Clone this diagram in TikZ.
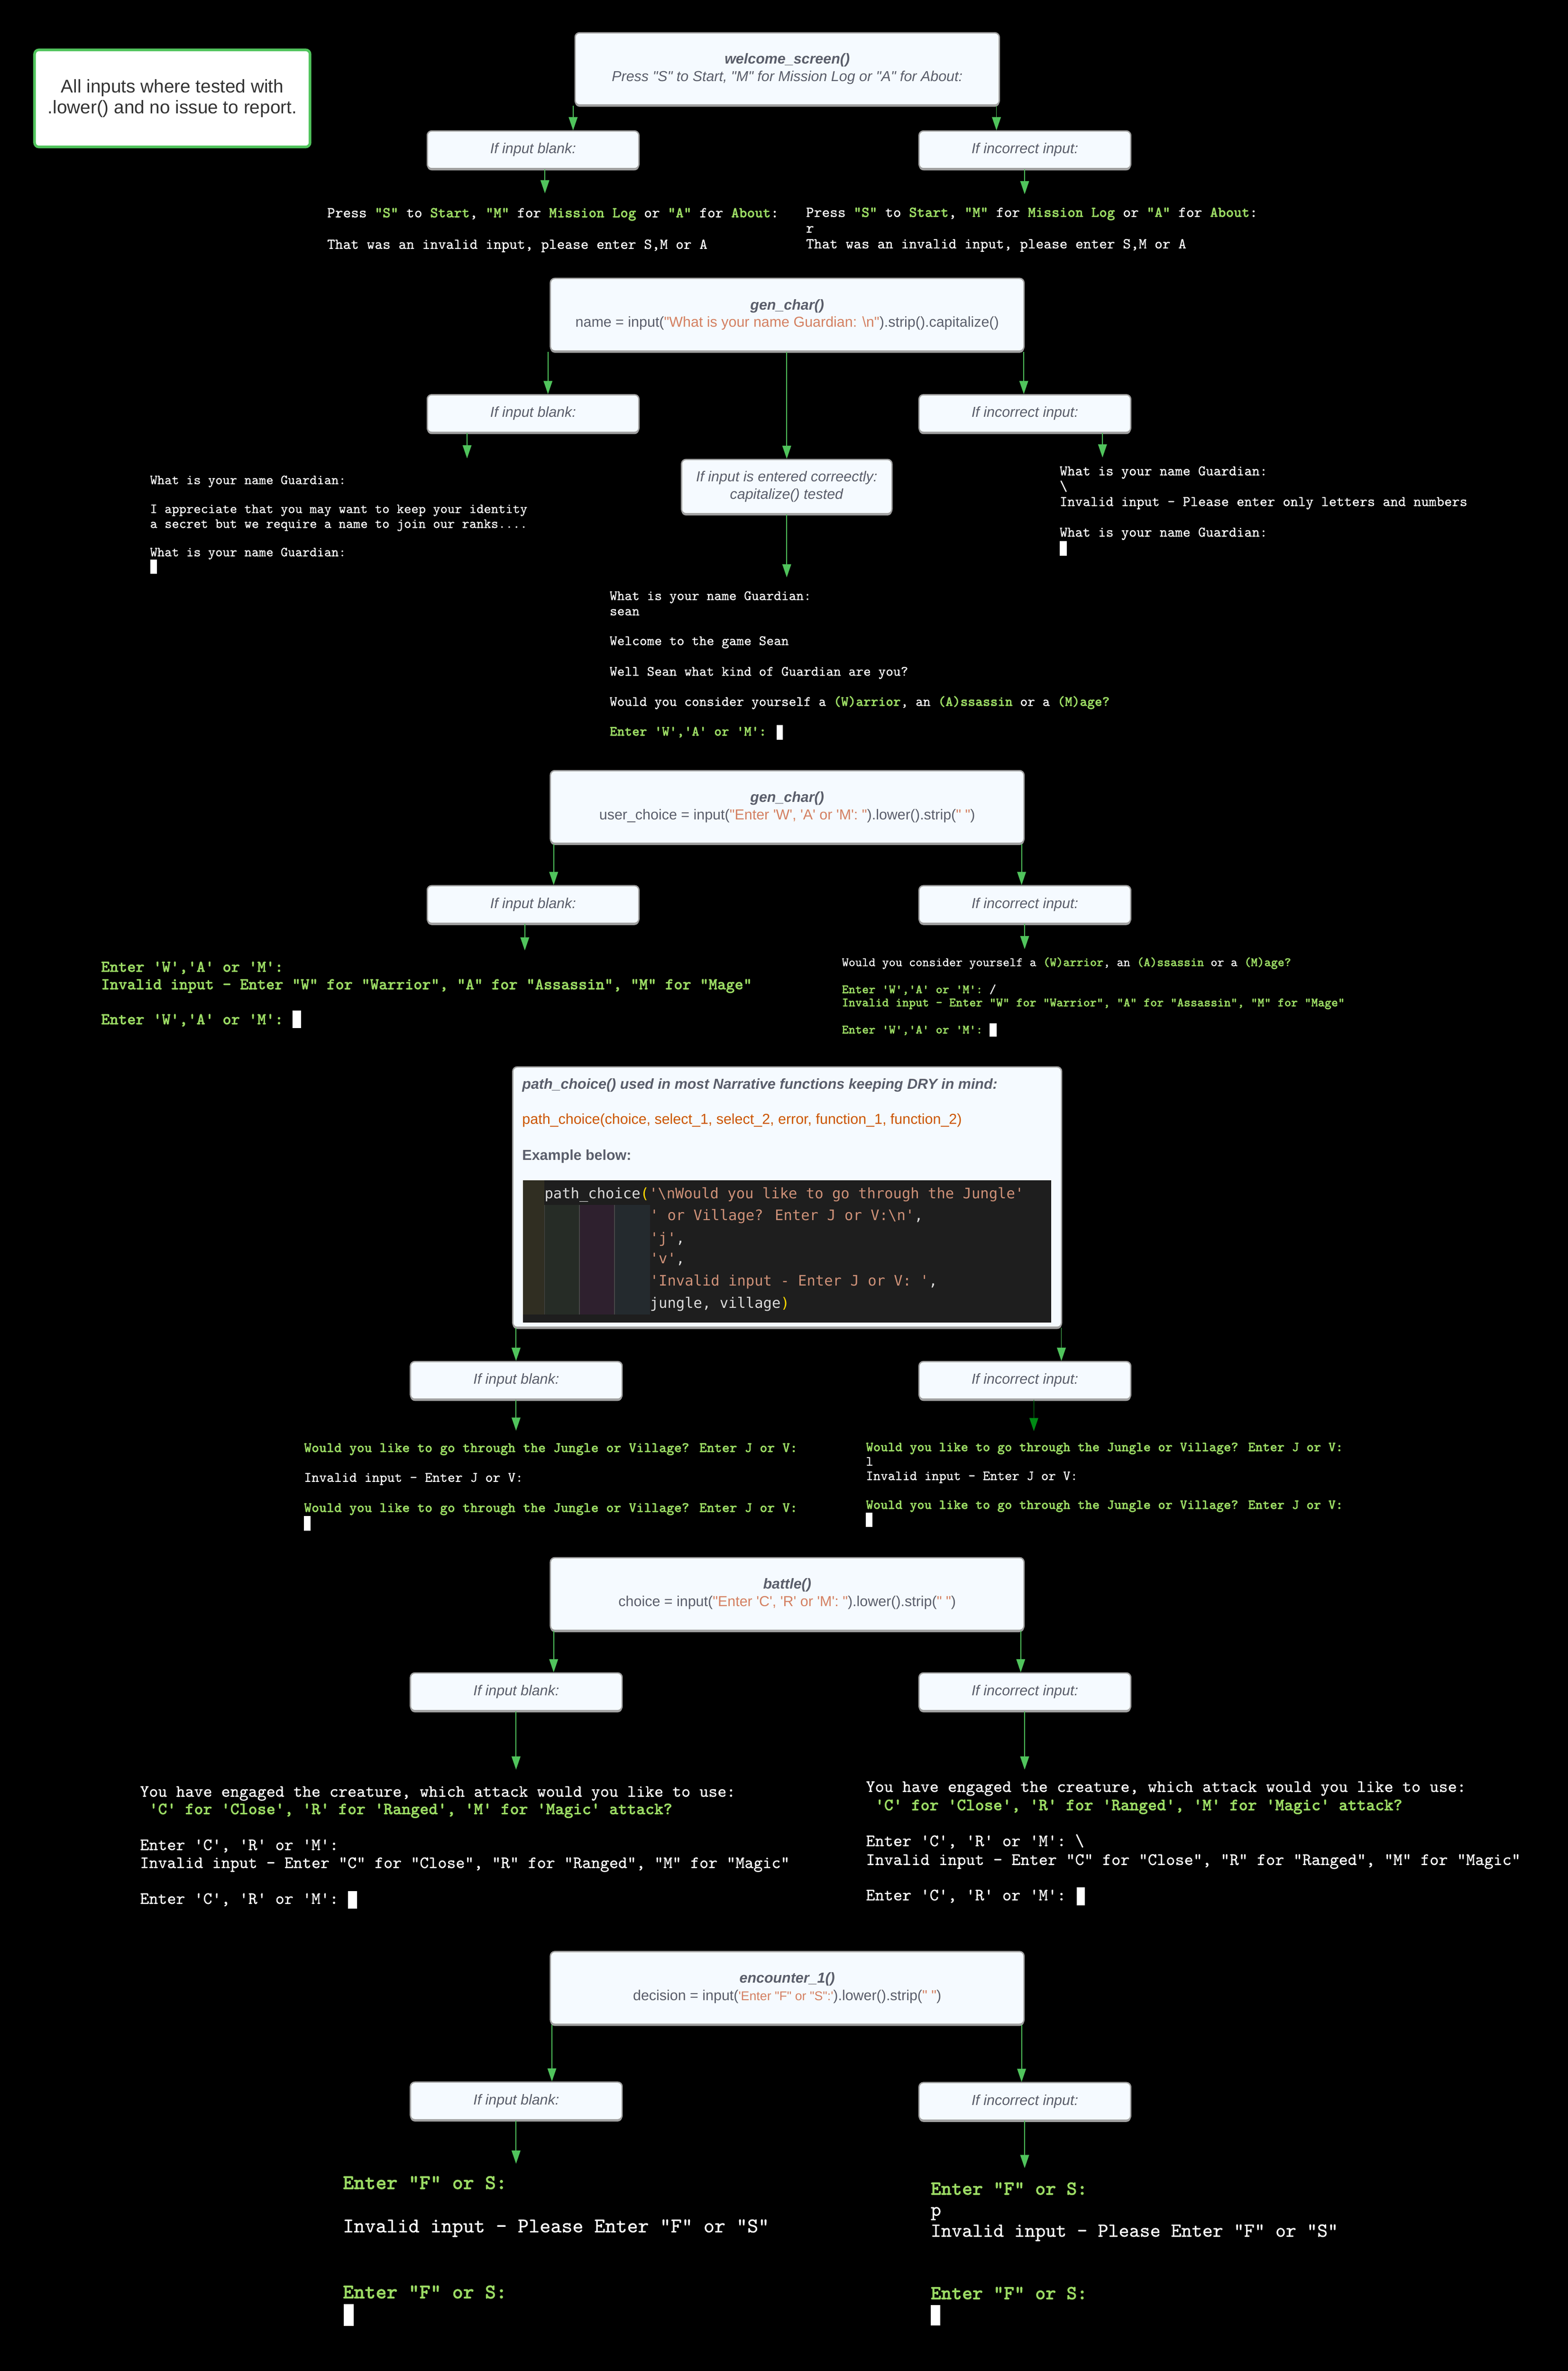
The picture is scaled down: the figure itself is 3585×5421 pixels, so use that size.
\documentclass[tikz,border=0pt]{standalone}
\usepackage{fontspec}
\usetikzlibrary{arrows.meta,shadows}
\newfontfamily\boxfont{Liberation Sans}
\newfontfamily\codefont{DejaVu Sans Mono}
\newfontfamily\termfont{lmmono10-regular.otf}[FakeBold=0.6, BoldFont=lmmonolt10-bold.otf, BoldFeatures={FakeBold=1.2}]
\definecolor{agreen}{RGB}{80,196,92}
\definecolor{adkgreen}{RGB}{0,138,20}
\definecolor{tgreen}{RGB}{156,220,100}
\definecolor{boxfill}{RGB}{245,250,255}
\definecolor{boxgray}{RGB}{160,160,160}
\definecolor{boxtext}{RGB}{90,94,107}
\definecolor{strorange}{RGB}{212,128,98}
\definecolor{sigorange}{RGB}{204,85,0}
\definecolor{notetext}{RGB}{51,51,51}
\definecolor{codebg}{RGB}{30,30,30}
\definecolor{codetxt}{RGB}{220,220,220}
\definecolor{codestr}{RGB}{206,145,120}
\definecolor{codeparen}{RGB}{255,215,0}
\definecolor{gutA}{RGB}{48,46,34}
\definecolor{gutB}{RGB}{38,44,38}
\definecolor{gutC}{RGB}{46,32,46}
\definecolor{gutD}{RGB}{36,42,46}
\definecolor{gutline}{RGB}{72,72,72}
\newcommand\grn[1]{{\color{tgreen}\bfseries #1}}
\newcommand\cstr[1]{{\color{codestr}#1}}
\newcommand\ostr[1]{{\color{strorange}#1}}
\tikzset{
  boxnode/.style={draw=boxgray, line width=3pt, fill=boxfill, rounded corners=10pt,
    general shadow={fill=boxgray, shadow yshift=-4pt}, align=center, text=boxtext,
    font=\boxfont\fontsize{33}{40}\selectfont, inner sep=0pt},
  smallbox/.style={boxnode, minimum width=484, minimum height=86},
  bigbox/.style={boxnode, minimum width=1083, minimum height=166},
  notebox/.style={draw=agreen, line width=6pt, fill=white, rounded corners=10pt,
    align=center, text=notetext, font=\boxfont\fontsize{42}{48}\selectfont},
  arrowline/.style={draw=agreen, line width=2pt, -{Triangle[length=30pt,width=20pt]}},
  darkarrow/.style={arrowline, draw=adkgreen, -{Triangle[length=30pt,width=20pt,fill=adkgreen]}},
  termtxt/.style={anchor=base west, inner sep=0pt, text=white},
  cursorbox/.style={fill=white, inner sep=0pt, anchor=north west},
  codetext/.style={anchor=base west, inner sep=0pt, text=codetxt, font=\codefont\fontsize{33.1}{50}\selectfont},
  pathtext/.style={anchor=base west, inner sep=0pt, text=boxtext, font=\boxfont\fontsize{33}{40}\selectfont},
  tsA/.style={font=\termfont\fontsize{34.5}{40}\selectfont},
  tsB/.style={font=\termfont\fontsize{31.6}{38}\selectfont},
  tsC/.style={font=\termfont\fontsize{33.5}{40}\selectfont},
  tsD/.style={font=\termfont\fontsize{32.5}{39}\selectfont},
  tsE/.style={font=\termfont\fontsize{37.8}{44}\selectfont},
  tsF/.style={font=\termfont\fontsize{29.2}{35}\selectfont},
  tsG/.style={font=\termfont\fontsize{32.9}{39}\selectfont},
  tsH/.style={font=\termfont\fontsize{31.8}{38}\selectfont},
  tsI/.style={font=\termfont\fontsize{39.3}{46}\selectfont},
  tsJ/.style={font=\termfont\fontsize{39.6}{46}\selectfont},
  tsK/.style={font=\termfont\fontsize{47.6}{56}\selectfont},
  tsL/.style={font=\termfont\fontsize{45.5}{54}\selectfont},
}
\begin{document}
\begin{tikzpicture}[x=1pt,y=-1pt]
\fill[black] (0,0) rectangle (3585,5421);
\useasboundingbox (0,0) rectangle (3585,5421);

% ---------- note ----------
\node[notebox, minimum width=630, minimum height=222] (note) at (394,225)
  {All inputs where tested with\\.lower() and no issue to report.};

% ---------- boxes ----------
\node[boxnode, minimum width=970, minimum height=165] (welcome) at (1800,157.5)
  {\textbf{\textit{welcome\_screen()}}\\\textit{Press "S" to Start, "M" for Mission Log or "A" for About:}};
\node[smallbox] (blank1) at (1219,342.5) {\textit{If input blank:}};
\node[smallbox] (incorr1) at (2343.5,342.5) {\textit{If incorrect input:}};

\node[bigbox] (genchar) at (1800,719.5)
  {\textbf{\textit{gen\_char()}}\\name = input(\ostr{"What is your name Guardian: \textbackslash n"}).strip().capitalize()};
\node[smallbox] (blank2) at (1219,945.5) {\textit{If input blank:}};
\node[smallbox] (incorr2) at (2343.5,945.5) {\textit{If incorrect input:}};
\node[boxnode, minimum width=481, minimum height=124] (correct) at (1799,1112.5)
  {\textit{If input is entered correectly:}\\\textit{capitalize() tested}};

\node[bigbox] (genchar2) at (1800,1845)
  {\textbf{\textit{gen\_char()}}\\user\_choice = input(\ostr{"Enter 'W', 'A' or 'M': "}).lower().strip(\ostr{" "})};
\node[smallbox] (blank3) at (1219,2068) {\textit{If input blank:}};
\node[smallbox] (incorr3) at (2343.5,2068) {\textit{If incorrect input:}};

\node[boxnode, minimum width=1255, minimum height=595] (pathbox) at (1800,2737) {};
\node[smallbox] (blank4) at (1180.5,3156) {\textit{If input blank:}};
\node[smallbox] (incorr4) at (2343.5,3156) {\textit{If incorrect input:}};

\node[bigbox] (battle) at (1800,3644.5)
  {\textbf{\textit{battle()}}\\choice = input(\ostr{"Enter 'C', 'R' or 'M': "}).lower().strip(\ostr{" "})};
\node[smallbox] (blank5) at (1180.5,3868) {\textit{If input blank:}};
\node[smallbox] (incorr5) at (2343.5,3868) {\textit{If incorrect input:}};

\node[bigbox] (encounter) at (1800,4545)
  {\textbf{\textit{encounter\_1()}}\\decision = input(\ostr{\fontsize{29}{40}\selectfont 'Enter "F" or "S":'}).lower().strip(\ostr{" "})};
\node[smallbox] (blank6) at (1180.5,4803.5) {\textit{If input blank:}};
\node[smallbox] (incorr6) at (2343.5,4804.5) {\textit{If incorrect input:}};

% ---------- path_choice box content ----------
\node[pathtext] (pt1) at (1194,2490) {\textbf{\textit{path\_choice() used in most Narrative functions keeping DRY in mind:}}};
\node[pathtext, text=sigorange] (pt2) at (1194,2570) {path\_choice(choice, select\_1, select\_2, error, function\_1, function\_2)};
\node[pathtext] (pt3) at (1194,2653) {\textbf{Example below:}};
\fill[codebg] (1196,2699) rectangle (2404,3024);
\fill[gutA] (1196,2699) rectangle (1245,3005);
\fill[gutB] (1245,2755) rectangle (1325,3005);
\fill[gutC] (1325,2755) rectangle (1405,3005);
\fill[gutD] (1405,2755) rectangle (1486,3005);
\draw[gutline, line width=1.5pt] (1245,2755) -- (1245,3005);
\draw[gutline, line width=1.5pt] (1325,2755) -- (1325,3005);
\draw[gutline, line width=1.5pt] (1405,2755) -- (1405,3005);
\node[codetext] (cl1) at (1245,2740) {path\_choice{\color{codeparen}(}\cstr{'\textbackslash nWould you like to go through the Jungle'}};
\node[codetext] (cl2) at (1486,2790) {\cstr{' or Village? Enter J or V:\textbackslash n'},};
\node[codetext] (cl3) at (1486,2842) {\cstr{'j'},};
\node[codetext] (cl4) at (1486,2889) {\cstr{'v'},};
\node[codetext] (cl5) at (1486,2940) {\cstr{'Invalid input - Enter J or V: '},};
\node[codetext] (cl6) at (1486,2991) {jungle, village{\color{codeparen})}};

% ---------- terminal text: welcome ----------
\node[termtxt, tsA] (t1a) at (748,497) {Press \grn{"S"} to \grn{Start}, \grn{"M"} for \grn{Mission Log} or \grn{"A"} for \grn{About}:};
\node[termtxt, tsA] (t1b) at (748,569) {That was an invalid input, please enter S,M or A};
\node[termtxt, tsA] (t1c) at (1843,496) {Press \grn{"S"} to \grn{Start}, \grn{"M"} for \grn{Mission Log} or \grn{"A"} for \grn{About}:};
\node[termtxt, tsA] (t1d) at (1843,532) {r};
\node[termtxt, tsA] (t1e) at (1843,568) {That was an invalid input, please enter S,M or A};

% ---------- terminal text: name ----------
\node[termtxt, tsB] (t2a) at (343,1107) {What is your name Guardian:};
\node[termtxt, tsB] (t2b) at (343,1173) {I appreciate that you may want to keep your identity};
\node[termtxt, tsB] (t2c) at (343,1207) {a secret but we require a name to join our ranks....};
\node[termtxt, tsB] (t2d) at (343,1272) {What is your name Guardian:};
\node[cursorbox, minimum width=16, minimum height=33] (c2a) at (343,1279) {};

\node[termtxt, tsC] (t3a) at (2423,1087) {What is your name Guardian:};
\node[termtxt, tsC] (t3b) at (2423,1122) {\textbackslash};
\node[termtxt, tsC] (t3c) at (2423,1157) {Invalid input - Please enter only letters and numbers};
\node[termtxt, tsC] (t3d) at (2423,1227) {What is your name Guardian:};
\node[cursorbox, minimum width=16, minimum height=34] (c3a) at (2423,1237) {};

\node[termtxt, tsD] (t4a) at (1394,1372) {What is your name Guardian:};
\node[termtxt, tsD] (t4b) at (1394,1407) {sean};
\node[termtxt, tsD] (t4c) at (1394,1475) {Welcome to the game Sean};
\node[termtxt, tsD] (t4d) at (1394,1545) {Well Sean what kind of Guardian are you?};
\node[termtxt, tsD] (t4e) at (1394,1614) {Would you consider yourself a \grn{(W)arrior}, an \grn{(A)ssassin} or a \grn{(M)age?}};
\node[termtxt, tsD] (t4f) at (1394,1682) {\grn{Enter 'W','A' or 'M':}};
\node[cursorbox, minimum width=14, minimum height=33] (c4a) at (1776,1658) {};

% ---------- terminal text: class ----------
\node[termtxt, tsE] (t5a) at (231,2222) {\grn{Enter 'W','A' or 'M':}};
\node[termtxt, tsE] (t5b) at (231,2262) {\grn{Invalid input - Enter "W" for "Warrior", "A" for "Assassin", "M" for "Mage"}};
\node[termtxt, tsE] (t5c) at (231,2342) {\grn{Enter 'W','A' or 'M':}};
\node[cursorbox, minimum width=19, minimum height=40] (c5a) at (669,2310) {};

\node[termtxt, tsF] (t6a) at (1925,2209) {Would you consider yourself a \grn{(W)arrior}, an \grn{(A)ssassin} or a \grn{(M)age?}};
\node[termtxt, tsF] (t6b) at (1925,2271) {\grn{Enter 'W','A' or 'M':} /};
\node[termtxt, tsF] (t6c) at (1925,2301) {\grn{Invalid input - Enter "W" for "Warrior", "A" for "Assassin", "M" for "Mage"}};
\node[termtxt, tsF] (t6d) at (1925,2363) {\grn{Enter 'W','A' or 'M':}};
\node[cursorbox, minimum width=16, minimum height=30] (c6a) at (2263,2340) {};

% ---------- terminal text: path ----------
\node[termtxt, tsG] (t7a) at (695,3320) {\grn{Would you like to go through the Jungle or Village? Enter J or V:}};
\node[termtxt, tsG] (t7b) at (695,3388) {Invalid input - Enter J or V:};
\node[termtxt, tsG] (t7c) at (695,3457) {\grn{Would you like to go through the Jungle or Village? Enter J or V:}};
\node[cursorbox, minimum width=15, minimum height=34] (c7a) at (695,3466) {};

\node[termtxt, tsH] (t8a) at (1980,3318) {\grn{Would you like to go through the Jungle or Village? Enter J or V:}};
\node[termtxt, tsH] (t8b) at (1980,3351) {l};
\node[termtxt, tsH] (t8c) at (1980,3384) {Invalid input - Enter J or V:};
\node[termtxt, tsH] (t8d) at (1980,3450) {\grn{Would you like to go through the Jungle or Village? Enter J or V:}};
\node[cursorbox, minimum width=15, minimum height=33] (c8a) at (1980,3458) {};

% ---------- terminal text: battle ----------
\node[termtxt, tsI] (t9a) at (320,4108) {You have engaged the creature, which attack would you like to use:};
\node[termtxt, tsI] (t9b) at (320,4148) {\ \grn{'C' for 'Close', 'R' for 'Ranged', 'M' for 'Magic' attack?}};
\node[termtxt, tsI] (t9c) at (320,4230) {Enter 'C', 'R' or 'M':};
\node[termtxt, tsI] (t9d) at (320,4271) {Invalid input - Enter "C" for "Close", "R" for "Ranged", "M" for "Magic"};
\node[termtxt, tsI] (t9e) at (320,4353) {Enter 'C', 'R' or 'M':};
\node[cursorbox, minimum width=20, minimum height=40] (c9a) at (796,4324) {};

\node[termtxt, tsJ] (t10a) at (1980,4097) {You have engaged the creature, which attack would you like to use:};
\node[termtxt, tsJ] (t10b) at (1980,4139) {\ \grn{'C' for 'Close', 'R' for 'Ranged', 'M' for 'Magic' attack?}};
\node[termtxt, tsJ] (t10c) at (1980,4221) {Enter 'C', 'R' or 'M': \textbackslash};
\node[termtxt, tsJ] (t10d) at (1980,4264) {Invalid input - Enter "C" for "Close", "R" for "Ranged", "M" for "Magic"};
\node[termtxt, tsJ] (t10e) at (1980,4345) {Enter 'C', 'R' or 'M':};
\node[cursorbox, minimum width=18, minimum height=41] (c10a) at (2462,4315) {};

% ---------- terminal text: encounter ----------
\node[termtxt, tsK] (t11a) at (784,5005) {\grn{Enter "F" or S:}};
\node[termtxt, tsK] (t11b) at (784,5104) {Invalid input - Please Enter "F" or "S"};
\node[termtxt, tsK] (t11c) at (784,5255) {\grn{Enter "F" or S:}};
\node[cursorbox, minimum width=23, minimum height=50] (c11a) at (786,5268) {};

\node[termtxt, tsL] (t12a) at (2128,5018) {\grn{Enter "F" or S:}};
\node[termtxt, tsL] (t12b) at (2128,5066) {p};
\node[termtxt, tsL] (t12c) at (2128,5114) {Invalid input - Please Enter "F" or "S"};
\node[termtxt, tsL] (t12d) at (2128,5257) {\grn{Enter "F" or S:}};
\node[cursorbox, minimum width=22, minimum height=47] (c12a) at (2128,5270) {};

% ---------- arrow start coordinates ----------
\coordinate (s1) at ([xshift=-3pt]welcome.south west);
\coordinate (s2) at ([xshift=-8pt]welcome.south east);
\coordinate (s3) at ([xshift=-4pt]genchar.south west);
\coordinate (s4) at ([xshift=-2pt]genchar.south east);
\coordinate (s5) at ([xshift=9pt]genchar2.south west);
\coordinate (s6) at ([xshift=-7pt]genchar2.south east);
\coordinate (s7) at ([xshift=9pt]pathbox.south west);
\coordinate (s8) at ([xshift=-2pt]pathbox.south east);
\coordinate (s9) at ([xshift=9pt]battle.south west);
\coordinate (s10) at ([xshift=-9pt]battle.south east);
\coordinate (s11) at ([xshift=5pt]encounter.south west);
\coordinate (s12) at ([xshift=-7pt]encounter.south east);

% free ends
\coordinate (e1) at (1246,442);
\coordinate (e2) at (2343,444);
\coordinate (e3) at (1068,1048);
\coordinate (e4) at (2521,1046);
\coordinate (e5) at (1799,1320);
\coordinate (e6) at (1200,2173);
\coordinate (e7) at (2343,2170);
\coordinate (e8) at (1180,3271);
\coordinate (e9) at (2364,3272);
\coordinate (e10) at (1180,4046);
\coordinate (e11) at (2343,4046);
\coordinate (e12) at (1180,4947);
\coordinate (e13) at (2343,4957);

% ---------- connectors ----------
\draw[arrowline] (s1) -- (s1 |- blank1.north);
\draw[arrowline] (s2) -- (s2 |- incorr1.north);
\draw[arrowline] (blank1.south -| e1) -- (e1);
\draw[arrowline] (incorr1.south -| e2) -- (e2);

\draw[arrowline] (s3) -- (s3 |- blank2.north);
\draw[arrowline] (s4) -- (s4 |- incorr2.north);
\draw[arrowline] (genchar.south -| correct.north) -- (correct.north);
\draw[arrowline] (blank2.south -| e3) -- (e3);
\draw[arrowline] (incorr2.south -| e4) -- (e4);
\draw[arrowline] (correct.south -| e5) -- (e5);

\draw[arrowline] (s5) -- (s5 |- blank3.north);
\draw[arrowline] (s6) -- (s6 |- incorr3.north);
\draw[arrowline] (blank3.south -| e6) -- (e6);
\draw[arrowline] (incorr3.south -| e7) -- (e7);

\draw[arrowline] (s7) -- (s7 |- blank4.north);
\draw[arrowline] (s8) -- (s8 |- incorr4.north);
\draw[arrowline] (blank4.south -| e8) -- (e8);
\draw[darkarrow] (incorr4.south -| e9) -- (e9);

\draw[arrowline] (s9) -- (s9 |- blank5.north);
\draw[arrowline] (s10) -- (s10 |- incorr5.north);
\draw[arrowline] (blank5.south -| e10) -- (e10);
\draw[arrowline] (incorr5.south -| e11) -- (e11);

\draw[arrowline] (s11) -- (s11 |- blank6.north);
\draw[arrowline] (s12) -- (s12 |- incorr6.north);
\draw[arrowline] (blank6.south -| e12) -- (e12);
\draw[arrowline] (incorr6.south -| e13) -- (e13);
\end{tikzpicture}
\end{document}
